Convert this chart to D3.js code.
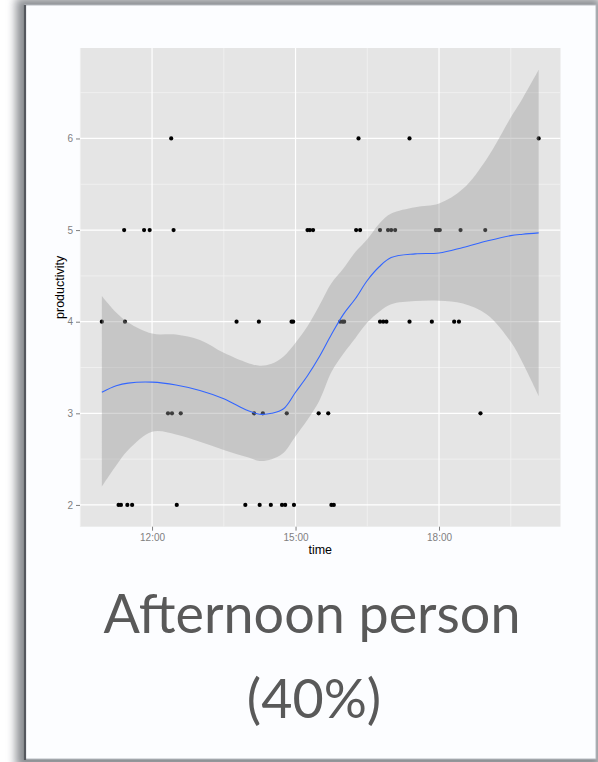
<!DOCTYPE html>
<html>
<head>
<meta charset="utf-8">
<script src="https://cdn.jsdelivr.net/npm/d3@7"></script>
<style>
  html, body { margin: 0; padding: 0; background: #ffffff; }
  svg { display: block; }
</style>
</head>
<body>
<svg id="chart" width="598" height="762"></svg>
<script>
// ---------- data ----------
const pointTimes = [
  "12:24","16:19","17:23","20:05",
  "11:25","11:50","11:57","12:27","15:15","15:18","15:22","16:16","16:21","16:46","16:56","17:00","17:05","17:56","17:59","18:01","18:27","18:58",
  "10:57","11:26","13:46","14:14","14:55","14:57","15:56","15:59","16:01","16:46","16:50","16:54","17:23","17:51","18:19","18:25",
  "12:20","12:25","12:36","14:08","14:19","14:49","15:29","15:41","18:52",
  "11:18","11:21","11:29","11:35","12:31","13:57","14:15","14:29","14:43","14:47","14:58","15:45","15:48"
];
const pointProductivity = [
  6,6,6,6,
  5,5,5,5,5,5,5,5,5,5,5,5,5,5,5,5,5,5,
  4,4,4,4,4,4,4,4,4,4,4,4,4,4,4,4,
  3,3,3,3,3,3,3,3,3,
  2,2,2,2,2,2,2,2,2,2,2,2,2
];
const smoothTimes = ["10:57","11:15","11:30","12:00","12:30","13:00","13:30","14:00","14:15","14:30","14:45","15:00","15:15","15:30","15:45","16:00","16:15","16:30","16:45","17:00","17:30","18:00","18:30","19:00","19:30","19:45","20:05"];
const smoothFit   = [3.23,3.30,3.33,3.34,3.31,3.25,3.16,3.03,2.99,3.00,3.05,3.23,3.41,3.62,3.86,4.08,4.25,4.45,4.60,4.70,4.74,4.75,4.81,4.88,4.94,4.955,4.97];
const smoothLower = [2.20,2.43,2.60,2.80,2.77,2.69,2.60,2.52,2.48,2.50,2.57,2.75,2.93,3.14,3.45,3.65,3.82,3.99,4.11,4.19,4.225,4.23,4.20,4.08,3.78,3.55,3.19];
const smoothUpper = [4.28,4.10,3.99,3.87,3.86,3.80,3.66,3.55,3.52,3.54,3.62,3.77,3.95,4.18,4.42,4.58,4.76,4.90,5.07,5.18,5.25,5.29,5.45,5.78,6.23,6.44,6.75];
const xTickValues = ["12:00","15:00","18:00"];
const xMinorValues = ["10:30","13:30","16:30","19:30"];
const yTickValues = [2,3,4,5,6];
const yMinorValues = [2.5,3.5,4.5,5.5,6.5];
const xTitle = "time";
const yTitle = "productivity";
const captionLines = ["Afternoon person", "(40%)"];

// ---------- helpers ----------
const toHours = s => { const [h, m] = s.split(":").map(Number); return h + m / 60; };
const fmt = h => String(Math.floor(h)).padStart(2, "0") + ":" + String(Math.round((h % 1) * 60)).padStart(2, "0");

const svg = d3.select("#chart");

// ---------- card ----------
const defs = svg.append("defs");
const f = defs.append("filter").attr("id", "shadow").attr("x", "-10%").attr("y", "-10%").attr("width", "120%").attr("height", "120%");
f.append("feGaussianBlur").attr("stdDeviation", 5);

svg.append("rect").attr("x", 0).attr("y", 0).attr("width", 598).attr("height", 762).attr("fill", "#ffffff");
svg.append("rect").attr("x", 16).attr("y", -2).attr("width", 585).attr("height", 770)
  .attr("fill", "#8a8d92").attr("filter", "url(#shadow)");
svg.append("rect").attr("x", 25).attr("y", 5).attr("width", 571).attr("height", 754)
  .attr("fill", "#fcfdff").attr("stroke", "#b8bcc2").attr("stroke-width", 1);
svg.append("line").attr("x1", 25).attr("x2", 25).attr("y1", 5).attr("y2", 760)
  .attr("stroke", "#55585e").attr("stroke-width", 2.2);

// ---------- chart ----------
const panel = { left: 80, top: 48, right: 560.5, bottom: 526.7 };

const tAll = pointTimes.map(toHours);
const tMin = d3.min(tAll), tMax = d3.max(tAll);
const tPad = (tMax - tMin) * 0.05;
const x = d3.scaleLinear().domain([tMin - tPad, tMax + tPad]).range([panel.left, panel.right]);

const yMinD = Math.min(d3.min(pointProductivity), d3.min(smoothLower));
const yMaxD = Math.max(d3.max(pointProductivity), d3.max(smoothUpper));
const yPad = (yMaxD - yMinD) * 0.05;
const y = d3.scaleLinear().domain([yMinD - yPad, yMaxD + yPad]).range([panel.bottom, panel.top]);

const g = svg.append("g");
g.append("rect").attr("x", panel.left).attr("y", panel.top)
  .attr("width", panel.right - panel.left).attr("height", panel.bottom - panel.top)
  .attr("fill", "#e5e5e5");

// minor grid
const xMinor = xMinorValues.map(toHours).filter(v => v >= x.domain()[0] && v <= x.domain()[1]);
g.selectAll(".xminor").data(xMinor).join("line")
  .attr("x1", d => x(d)).attr("x2", d => x(d)).attr("y1", panel.top).attr("y2", panel.bottom)
  .attr("stroke", "#f2f2f2").attr("stroke-width", 0.8);
g.selectAll(".yminor").data(yMinorValues.filter(v => v >= y.domain()[0] && v <= y.domain()[1])).join("line")
  .attr("y1", d => y(d)).attr("y2", d => y(d)).attr("x1", panel.left).attr("x2", panel.right)
  .attr("stroke", "#f2f2f2").attr("stroke-width", 0.8);
// major grid
const xMajor = xTickValues.map(toHours);
g.selectAll(".xmajor").data(xMajor).join("line")
  .attr("x1", d => x(d)).attr("x2", d => x(d)).attr("y1", panel.top).attr("y2", panel.bottom)
  .attr("stroke", "#ffffff").attr("stroke-width", 1.2);
g.selectAll(".ymajor").data(yTickValues).join("line")
  .attr("y1", d => y(d)).attr("y2", d => y(d)).attr("x1", panel.left).attr("x2", panel.right)
  .attr("stroke", "#ffffff").attr("stroke-width", 1.2);

// points (drawn beneath the ribbon as in ggplot)
g.selectAll(".pt").data(tAll.map((t, i) => [t, pointProductivity[i]])).join("circle")
  .attr("cx", d => x(d[0])).attr("cy", d => y(d[1])).attr("r", 2.1).attr("fill", "#000000");

// ribbon
const sm = smoothTimes.map((t, i) => ({ t: toHours(t), fit: smoothFit[i], lo: smoothLower[i], hi: smoothUpper[i] }));
g.append("path").datum(sm)
  .attr("d", d3.area().x(d => x(d.t)).y0(d => y(d.lo)).y1(d => y(d.hi)).curve(d3.curveCatmullRom.alpha(0.5)))
  .attr("fill", "#999999").attr("fill-opacity", 0.4);
g.append("path").datum(sm)
  .attr("d", d3.line().x(d => x(d.t)).y(d => y(d.fit)).curve(d3.curveCatmullRom.alpha(0.5)))
  .attr("fill", "none").attr("stroke", "#3366ff").attr("stroke-width", 1.1);

// axes
const xAxis = d3.axisBottom(x).tickValues(xMajor).tickFormat(fmt).tickSize(4).tickPadding(3);
const yAxis = d3.axisLeft(y).tickValues(yTickValues).tickFormat(d3.format("d")).tickSize(4).tickPadding(3);
const gx = svg.append("g").attr("transform", `translate(0,${panel.bottom})`).call(xAxis);
const gy = svg.append("g").attr("transform", `translate(${panel.left},0)`).call(yAxis);
[gx, gy].forEach(a => {
  a.select(".domain").remove();
  a.selectAll(".tick line").attr("stroke", "#7f7f7f");
  a.selectAll(".tick text").attr("fill", "#7f7f7f")
    .style("font-family", "'Liberation Sans', Arial, sans-serif").style("font-size", "10px");
});

svg.append("text").attr("x", (panel.left + panel.right) / 2).attr("y", 554)
  .attr("text-anchor", "middle").style("font-family", "'Liberation Sans', Arial, sans-serif")
  .style("font-size", "12.5px").attr("fill", "#000").text(xTitle);
svg.append("text").attr("transform", `translate(64,${(panel.top + panel.bottom) / 2}) rotate(-90)`)
  .attr("text-anchor", "middle").style("font-family", "'Liberation Sans', Arial, sans-serif")
  .style("font-size", "12.5px").attr("fill", "#000").text(yTitle);

// caption
const cap1 = svg.append("text").attr("x", 312).attr("y", 633).attr("text-anchor", "middle")
  .style("font-family", "Lato, 'Open Sans', sans-serif").style("font-size", "100px")
  .attr("fill", "#595959").text(captionLines[0]);
const w = cap1.node().getComputedTextLength();
const size = 100 * 417 / w;
cap1.style("font-size", size + "px");
svg.append("text").attr("x", 314).attr("y", 718).attr("text-anchor", "middle")
  .style("font-family", "Lato, 'Open Sans', sans-serif").style("font-size", size + "px")
  .attr("fill", "#595959").text(captionLines[1]);
</script>
</body>
</html>
